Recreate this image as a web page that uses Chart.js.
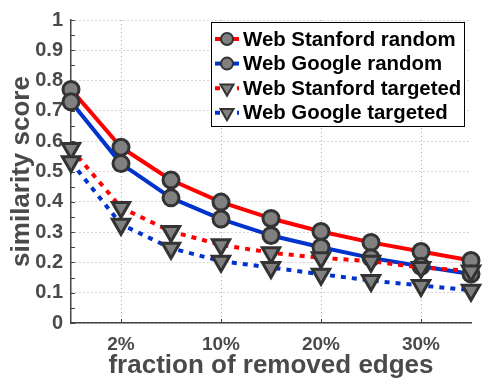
<!DOCTYPE html>
<html>
<head>
<meta charset="utf-8">
<script src="https://cdn.jsdelivr.net/npm/chart.js@4.4.0/dist/chart.umd.min.js"></script>
<style>
  html, body { margin: 0; padding: 0; background: #fff; }
  #wrap { width: 484px; height: 381px; }
</style>
</head>
<body>
<div id="wrap"><canvas id="simChart" width="484" height="381"></canvas></div>
<script>
  // removal steps along x, only every other one gets a label
  const xLabels = ["", "2%", "", "10%", "", "20%", "", "30%", ""];
  const yTickLabels = ["0", "0.1", "0.2", "0.3", "0.4", "0.5", "0.6", "0.7", "0.8", "0.9", "1"];

  const stanfordRandom   = [0.771, 0.58, 0.472, 0.399, 0.345, 0.302, 0.266, 0.236, 0.206];
  const googleRandom     = [0.73, 0.526, 0.413, 0.343, 0.289, 0.25, 0.215, 0.187, 0.162];
  const stanfordTargeted = [0.576, 0.381, 0.302, 0.258, 0.232, 0.215, 0.204, 0.183, 0.172];
  const googleTargeted   = [0.532, 0.326, 0.247, 0.204, 0.183, 0.161, 0.14, 0.124, 0.108];

  const RED = "#ff0000";
  const BLUE = "#0033cc";
  const TEXT = "#4a4a4a";
  const FONT = "'Liberation Sans', Arial, Helvetica, sans-serif";

  function series(label, data, color, dotted) {
    return {
      label: label,
      data: data,
      borderColor: color,
      borderWidth: 4,
      borderDash: dotted ? [5, 6] : [],
      borderCapStyle: "butt",
      borderJoinStyle: "round",
      tension: 0,
      fill: false,
      clip: false,
      pointStyle: dotted ? "triangle" : "circle",
      pointRotation: dotted ? 180 : 0,
      pointRadius: dotted ? 10 : 8,
      pointBorderWidth: 3,
      pointBorderColor: "#333333",
      pointBackgroundColor: "#808080"
    };
  }

  // small inward ticks on both axes
  const innerTicks = {
    id: "innerTicks",
    beforeDatasetsDraw(chart) {
      const ctx = chart.ctx;
      const ys = chart.scales.y, xs = chart.scales.x;
      const a = chart.chartArea;
      ctx.save();
      ctx.strokeStyle = "#444";
      ctx.lineWidth = 1;
      ctx.beginPath();
      for (let v = 0; v <= 1.0001; v += 0.05) {
        const y = Math.round(ys.getPixelForValue(v)) + 0.5;
        ctx.moveTo(a.left, y);
        ctx.lineTo(a.left + 4, y);
      }
      xLabels.forEach((lab, i) => {
        if (!lab) return;
        const x = Math.round(xs.getPixelForValue(i)) + 0.5;
        ctx.moveTo(x, a.bottom);
        ctx.lineTo(x, a.bottom - 4);
      });
      ctx.stroke();
      ctx.restore();
    }
  };

  // boxed legend in the upper right corner of the plot
  const boxLegend = {
    id: "boxLegend",
    afterDraw(chart) {
      const ctx = chart.ctx;
      const a = chart.chartArea;
      const w = 253, h = 104;
      const x0 = a.right - w - 7, y0 = a.top + 2;
      ctx.save();
      ctx.fillStyle = "#fff";
      ctx.fillRect(x0, y0, w, h);
      ctx.strokeStyle = "#000";
      ctx.lineWidth = 1;
      ctx.strokeRect(x0 + 0.5, y0 + 0.5, w, h);

      ctx.font = "bold 20.4px " + FONT;
      ctx.textBaseline = "middle";
      chart.data.datasets.forEach((ds, i) => {
        const cy = y0 + 17 + i * 24.6;
        const cx = x0 + 16;
        ctx.strokeStyle = ds.borderColor;
        ctx.lineWidth = 4;
        ctx.setLineDash(ds.borderDash);
        ctx.beginPath();
        ctx.moveTo(x0 + 4, cy);
        ctx.lineTo(x0 + 28, cy);
        ctx.stroke();
        ctx.setLineDash([]);

        ctx.fillStyle = "#808080";
        ctx.strokeStyle = "#333";
        ctx.lineWidth = 2;
        ctx.beginPath();
        if (ds.pointStyle === "circle") {
          ctx.arc(cx, cy, 6, 0, Math.PI * 2);
        } else {
          const r = 7.5;
          ctx.moveTo(cx, cy + r);
          ctx.lineTo(cx - r * 0.866, cy - r / 2);
          ctx.lineTo(cx + r * 0.866, cy - r / 2);
          ctx.closePath();
        }
        ctx.fill();
        ctx.stroke();

        ctx.fillStyle = "#000";
        ctx.fillText(ds.label, x0 + 32, cy + 1);
      });
      ctx.restore();
    }
  };

  const ctx = document.getElementById("simChart").getContext("2d");
  new Chart(ctx, {
    type: "line",
    data: {
      labels: xLabels,
      datasets: [
        Object.assign(series("Web Stanford random", stanfordRandom, RED, false), { order: 3 }),
        Object.assign(series("Web Google random", googleRandom, BLUE, false), { order: 2 }),
        Object.assign(series("Web Stanford targeted", stanfordTargeted, RED, true), { order: 1 }),
        Object.assign(series("Web Google targeted", googleTargeted, BLUE, true), { order: 0 })
      ]
    },
    options: {
      responsive: false,
      animation: false,
      devicePixelRatio: 1,
      layout: { padding: { top: 13, right: 6, left: 0, bottom: 0 } },
      plugins: {
        legend: { display: false },
        tooltip: { enabled: false }
      },
      scales: {
        x: {
          type: "category",
          offset: false,
          afterFit: (s) => { s.height = 58; },
          grid: {
            color: (c) => (xLabels[c.index] ? "#a8a8a8" : "rgba(0,0,0,0)"),
            lineWidth: 1,
            drawTicks: false
          },
          border: { display: true, color: "#444", width: 1.5, dash: [1, 3] },
          ticks: {
            autoSkip: false,
            maxRotation: 0,
            padding: 10,
            color: TEXT,
            font: { family: FONT, size: 19, weight: "bold" }
          },
          title: {
            display: true,
            text: "fraction of removed edges",
            color: TEXT,
            font: { family: FONT, size: 26, weight: "bold" },
            padding: { top: 0, bottom: 0 }
          }
        },
        y: {
          min: 0,
          max: 1,
          afterFit: (s) => { s.width = 71; },
          grid: { color: "#a8a8a8", lineWidth: 1, drawTicks: false },
          border: { display: true, color: "#444", width: 1.5, dash: [1, 3] },
          ticks: {
            stepSize: 0.1,
            padding: 8,
            color: TEXT,
            font: { family: FONT, size: 20, weight: "bold" },
            callback: (v) => yTickLabels[Math.round(v * 10)]
          },
          title: {
            display: true,
            text: "similarity score",
            color: TEXT,
            font: { family: FONT, size: 26, weight: "bold" },
            padding: { top: 6, bottom: 0 }
          }
        }
      }
    },
    plugins: [innerTicks, boxLegend]
  });
</script>
</body>
</html>
